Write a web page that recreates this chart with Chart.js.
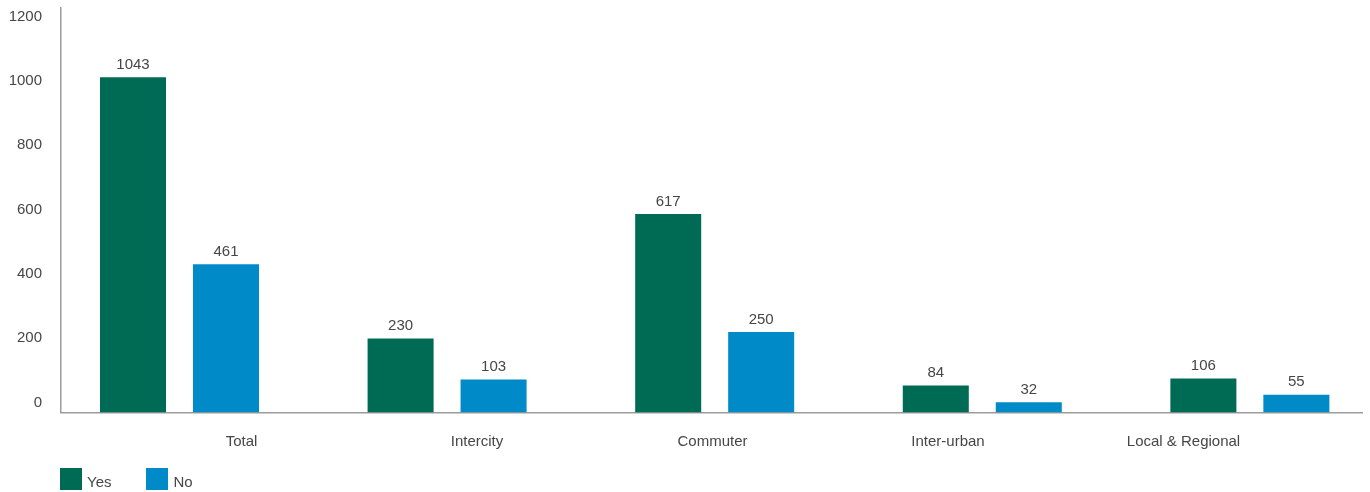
<!DOCTYPE html>
<html lang="en">
<head>
<meta charset="UTF-8">
<title>Yes / No by service type</title>
<script src="https://cdn.jsdelivr.net/npm/chart.js"></script>
<style>
  html, body { margin: 0; padding: 0; background: #fff; }
  #wrap { position: relative; width: 1370px; height: 492px; }
  #legend {
    position: absolute; left: 60px; top: 468px;
    margin: 0; padding: 0; list-style: none;
    display: flex;
    font: 15px 'Liberation Sans', Arial, Helvetica, sans-serif;
    color: #464646;
  }
  #legend li { display: flex; align-items: center; height: 22px; margin-right: 35px; }
  #legend .swatch { display: inline-block; width: 22px; height: 22px; margin-right: 5px; }
  #legend .name { position: relative; top: 2px; }
</style>
</head>
<body>
<div id="wrap">
  <canvas id="chart" width="1370" height="492"></canvas>
  <ul id="legend"></ul>
</div>
<script>
const categories = ['Total', 'Intercity', 'Commuter', 'Inter-urban', 'Local & Regional'];
const yesValues = [1043, 230, 617, 84, 106];
const noValues = [461, 103, 250, 32, 55];
const yTicks = [0, 200, 400, 600, 800, 1000, 1200];

const GREEN = '#006b55';
const BLUE = '#008ac8';
const AXIS = '#9c9c9c';
const TEXT = '#464646';
const FONT = "'Liberation Sans', Arial, Helvetica, sans-serif";

Chart.defaults.font.family = FONT;
Chart.defaults.font.size = 15;
Chart.defaults.color = TEXT;

// numbers printed above every bar
const valueLabels = {
  id: 'valueLabels',
  afterDatasetsDraw(chart) {
    const ctx = chart.ctx;
    ctx.save();
    ctx.font = '15px ' + FONT;
    ctx.fillStyle = TEXT;
    ctx.textAlign = 'center';
    ctx.textBaseline = 'middle';
    chart.data.datasets.forEach((ds, di) => {
      chart.getDatasetMeta(di).data.forEach((bar, i) => {
        ctx.fillText(String(ds.data[i].y), bar.x, bar.y - 12.5);
      });
    });
    ctx.restore();
  }
};

// legend built as a list under the canvas
const htmlLegend = {
  id: 'htmlLegend',
  afterUpdate(chart) {
    const list = document.getElementById('legend');
    list.innerHTML = '';
    chart.options.plugins.legend.labels.generateLabels(chart).forEach(item => {
      const li = document.createElement('li');
      const box = document.createElement('span');
      box.className = 'swatch';
      box.style.background = item.fillStyle;
      const name = document.createElement('span');
      name.className = 'name';
      name.textContent = item.text;
      li.append(box, name);
      list.appendChild(li);
    });
  }
};

const toPoints = vals => vals.map((v, i) => ({ x: i, y: v }));

new Chart(document.getElementById('chart'), {
  type: 'bar',
  data: {
    datasets: [
      { label: 'Yes', data: toPoints(yesValues), backgroundColor: GREEN, borderWidth: 0 },
      { label: 'No', data: toPoints(noValues), backgroundColor: BLUE, borderWidth: 0 }
    ]
  },
  options: {
    responsive: false,
    devicePixelRatio: 1,
    animation: false,
    events: [],
    categoryPercentage: 0.695,
    barPercentage: 0.71,
    layout: { padding: { left: 0, right: 8, top: 8, bottom: 21.5 } },
    plugins: {
      tooltip: { enabled: false },
      legend: { display: false }
    },
    scales: {
      // bar positions: one unit per category
      x: {
        type: 'linear',
        display: false,
        offset: false,
        min: -0.4428,
        max: 4.419,
        ticks: { stepSize: 1, includeBounds: false }
      },
      // category names along the bottom
      xLabels: {
        type: 'linear',
        axis: 'x',
        position: 'bottom',
        offset: false,
        min: -0.7665,
        max: 4.758,
        grid: { display: false, drawTicks: false },
        border: { color: AXIS, width: 1.5 },
        ticks: {
          stepSize: 1,
          includeBounds: false,
          autoSkip: false,
          maxRotation: 0,
          padding: 20,
          color: TEXT,
          font: { size: 15, lineHeight: 1.2 },
          callback: value => categories[value]
        }
      },
      y: {
        min: 0,
        max: 1258,
        grid: { display: false, drawTicks: true, tickLength: 19 },
        border: { color: AXIS, width: 1.5 },
        ticks: {
          padding: 0,
          labelOffset: -10,
          color: TEXT,
          font: { size: 15, lineHeight: 1 },
          callback: value => String(value)
        },
        afterBuildTicks: scale => { scale.ticks = yTicks.map(v => ({ value: v })); },
        afterFit: scale => { scale.width = 61; }
      }
    }
  },
  plugins: [valueLabels, htmlLegend]
});
</script>
</body>
</html>
